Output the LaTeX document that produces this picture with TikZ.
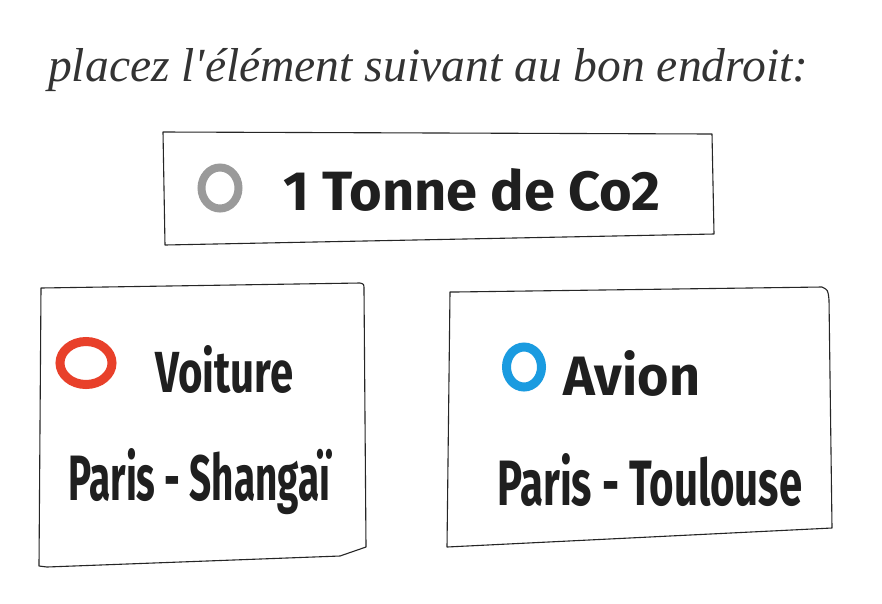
\documentclass[tikz,border=0pt]{standalone}
\usepackage{fontspec}
\setmainfont{Liberation Sans}
\newfontfamily\handfont{Liberation Serif}
\newfontfamily\markfont{Fira Sans}
\definecolor{ringred}{HTML}{E8402A}
\definecolor{ringblue}{HTML}{1A9BE0}
\definecolor{ringgrey}{HTML}{9A9A9A}
\begin{document}
\begin{tikzpicture}[x=1pt,y=-1pt,
  sketch/.style={draw=black!85,line width=1.1pt,line join=round,line cap=round},
  ring/.style={line width=9pt},
  marker/.style={inner sep=0pt,anchor=base west,text=black!88,font=\markfont\bfseries},
  title/.style={inner sep=0pt,anchor=west,text=black!80,font=\handfont\itshape}]
\useasboundingbox[fill=white] (0,0) rectangle (882,603);
% title
\node[title] (title) at (48,70) {\resizebox{760pt}{!}{placez l'élément suivant au bon endroit:}};
% top box
\draw[sketch] (163,132) -- (712,134) -- (714,234) -- (165,245) -- cycle;
\draw[ring,line width=8pt,draw=ringgrey] (220,188) ellipse (18.5 and 20.5);
\node[marker] (tonne) at (283,210) {\resizebox{377pt}{42pt}{1 Tonne de Co2}};
% left box
\draw[sketch] (41,288) -- (360,283) .. controls (364,284) .. (364,290) -- (366,547) -- (340,556) -- (47,567) -- (39,566) -- cycle;
\draw[ring,draw=ringred] (86,363) ellipse (26 and 21.5);
\node[marker] (voiture) at (155,392) {\resizebox{138pt}{47pt}{Voiture}};
\node[marker] (shangai) at (68,500) {\resizebox{262pt}{52pt}{Paris - Shangaï}};
% right box
\draw[sketch] (455,292) -- (822,287) .. controls (828,290) .. (829,300) -- (832,528) -- (447,547) -- (450,292) -- cycle;
\draw[ring,draw=ringblue] (524,367) ellipse (17.5 and 20);
\node[marker] (avion) at (563,395) {\resizebox{137pt}{45pt}{Avion}};
\node[marker] (toulouse) at (497,505) {\resizebox{305pt}{52pt}{Paris - Toulouse}};
\end{tikzpicture}
\end{document}
